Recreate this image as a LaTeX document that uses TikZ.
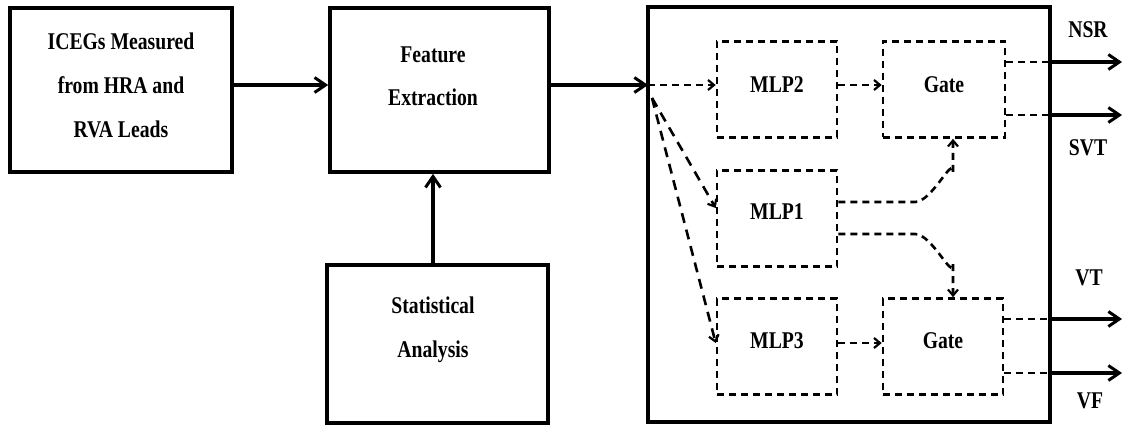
\documentclass[tikz,border=0pt]{standalone}
\usepackage{fontspec}
\setmainfont[FakeStretch=0.82]{Liberation Serif}
\usetikzlibrary{arrows.meta,calc}
\begin{document}
\begin{tikzpicture}[x=1pt,y=-1pt,
  solidbox/.style={draw,line width=3.6pt,minimum width=#1,inner sep=0pt},
  dbox/.style={draw,line width=2.6pt,dash pattern=on 7pt off 5pt,inner sep=0pt,minimum width=120pt,minimum height=96pt},
  txt/.style={font=\bfseries\fontsize{24}{44}\selectfont,align=center},
  lab/.style={font=\bfseries\fontsize{24}{26}\selectfont},
  sarrow/.style={line width=3.6pt,-{Straight Barb[length=11pt,width=15pt,line width=3pt]}},
  darrow/.style={line width=2.6pt,dash pattern=on 7pt off 5pt,-{Straight Barb[length=6pt,width=10pt,line width=2.2pt]}},
  fanarrow/.style={darrow,dash pattern=on 10pt off 7pt},
  dline/.style={line width=2.6pt,dash pattern=on 7pt off 5pt}]
\useasboundingbox (0,0) rectangle (1130,425);
% main blocks
\node[solidbox=222pt,minimum height=164pt] (icegs) at (121,90) {};
\node[txt] (icegst) at (121,85) {ICEGs Measured\\from HRA and\\RVA Leads};
\node[solidbox=219pt,minimum height=164pt] (feat) at (439.5,90) {};
\node[txt,font=\bfseries\fontsize{24}{43}\selectfont] (featt) at (433,76) {Feature\\Extraction};
\node[solidbox=221pt,minimum height=158pt] (stat) at (437.5,344) {};
\node[txt] (statt) at (433,330) {Statistical\\Analysis};
\node[solidbox=402pt,minimum height=415pt] (big) at (849,214.5) {};
% inner dashed boxes
\node[dbox] (mlp2) at (777,89.5) {};
\node[txt] (mlp2t) at (777,85) {MLP2};
\node[dbox,minimum width=122pt] (gate1) at (944,89.5) {};
\node[txt] (gate1t) at (944,85) {Gate};
\node[dbox] (mlp1) at (777,218.5) {};
\node[txt] (mlp1t) at (777,212) {MLP1};
\node[dbox] (mlp3) at (777,346.5) {};
\node[txt] (mlp3t) at (777,341) {MLP3};
\node[dbox] (gate2) at (943,346.5) {};
\node[txt] (gate2t) at (943,341) {Gate};
% solid connectors
\coordinate (in) at (648,85);
\draw[sarrow] (icegs.east |- 0,85) -- (feat.west |- 0,85);
\draw[sarrow] (feat.east |- 0,85) -- (in);
\draw[sarrow] (stat.north -| 433,0) -- (feat.south -| 433,0);
% dashed fan-out
\coordinate (fan) at (652,98);
\draw[darrow] (in) -- (mlp2.west |- in);
\draw[fanarrow] (fan) -- (mlp1.west |- 0,208);
\draw[fanarrow] (fan) -- (mlp3.west |- 0,343);
\draw[darrow] (mlp2.east |- 0,85) -- (gate1.west |- 0,85);
\draw[darrow] (mlp3.east |- 0,343) -- (gate2.west |- 0,343);
\coordinate (gx) at (953,0);
\draw[darrow] (mlp1.east |- 0,202) -- (915,202) to[out=0,in=90,looseness=0.9] (953,172) -- (gx |- gate1.south);
\draw[darrow] (mlp1.east |- 0,234) -- (915,234) to[out=0,in=-90,looseness=0.9] (953,264) -- (gx |- gate2.north);
% outputs
\coordinate (o1) at (1050,62);
\coordinate (o2) at (1050,115);
\coordinate (o3) at (1050,319);
\coordinate (o4) at (1050,373);
\coordinate (e1) at (1122,62);
\coordinate (e2) at (1122,115);
\coordinate (e3) at (1122,319);
\coordinate (e4) at (1122,373);
\draw[dline] (gate1.east |- o1) -- (o1);
\draw[dline] (gate1.east |- o2) -- (o2);
\draw[dline] (gate2.east |- o3) -- (o3);
\draw[dline] (gate2.east |- o4) -- (o4);
\draw[sarrow] (o1) -- (e1);
\draw[sarrow] (o2) -- (e2);
\draw[sarrow] (o3) -- (e3);
\draw[sarrow] (o4) -- (e4);
\node[lab] (nsr) at (1088,30) {NSR};
\node[lab] (svt) at (1088,148) {SVT};
\node[lab] (vt) at (1089,278) {VT};
\node[lab] (vf) at (1090,401) {VF};
\end{tikzpicture}
\end{document}
